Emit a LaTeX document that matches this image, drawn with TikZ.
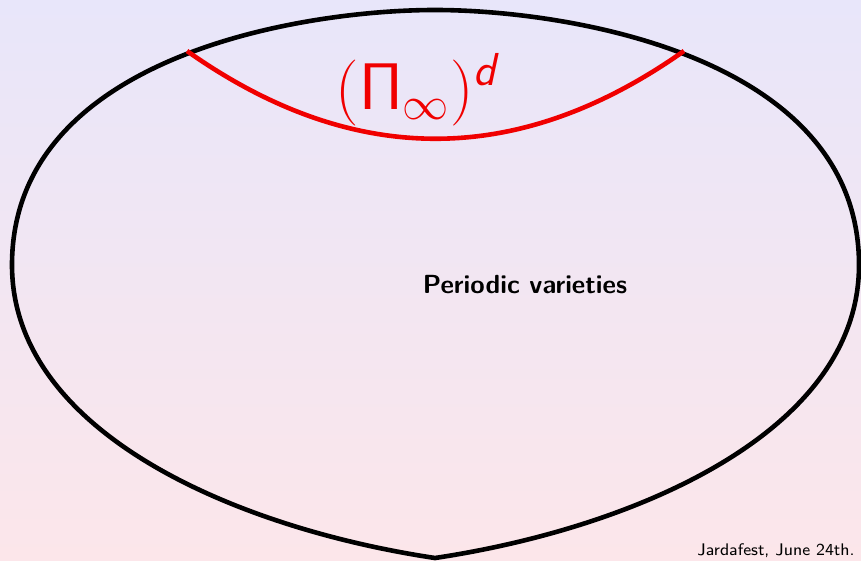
\RequirePackage{fix-cm}
\documentclass[tikz,border=0pt]{standalone}
\usepackage{amsmath,amssymb}
\usepackage{tikz}
\usetikzlibrary{positioning,calc}
\usepackage{xcolor}

\definecolor{bgtop}{RGB}{232,230,250}
\definecolor{bgbottom}{RGB}{252,230,234}
\definecolor{arcred}{RGB}{240,0,0}

\begin{document}
\begin{tikzpicture}[x=0.5pt,y=-0.5pt,
    outline/.style={line width=2.3pt,black,line join=round},
    bdry/.style={line width=2.3pt,arcred},
    label/.style={inner sep=0pt,font=\sffamily}]
  % background
  \shade[top color=bgtop,bottom color=bgbottom] (0,0) rectangle (861,561);
  \useasboundingbox (0,0) rectangle (861,561);

  % the region of periodic varieties
  \coordinate (tip) at (435,558);
  \coordinate (west) at (12,265);
  \coordinate (north) at (435,10);
  \coordinate (east) at (859,265);
  \draw[outline] (tip) .. controls (235,528) and (12,432) .. (west)
    .. controls (12,55) and (305,10) .. (north)
    .. controls (565,10) and (859,55) .. (east)
    .. controls (859,432) and (635,528) .. (tip) -- cycle;

  % the boundary piece
  \coordinate (pl) at (187,51);
  \coordinate (pr) at (684,51);
  \draw[bdry] (pl) .. controls (352.7,168) and (518.3,168) .. (pr);
  \node[label,arcred,font=\fontsize{33}{40}\selectfont] (pinf) at (418,90)
    {$(\mathsf{\Pi}_{\infty})^{\textsf{\textit{d}}}$};

  \node[label,font=\fontsize{13.1}{15}\sffamily\bfseries] (periodic) at (525,285)
    {Periodic varieties};
  \node[label,anchor=base east,font=\fontsize{8.4}{9}\sffamily] (foot) at (855,555)
    {Jardafest, June 24th.};
\end{tikzpicture}
\end{document}
